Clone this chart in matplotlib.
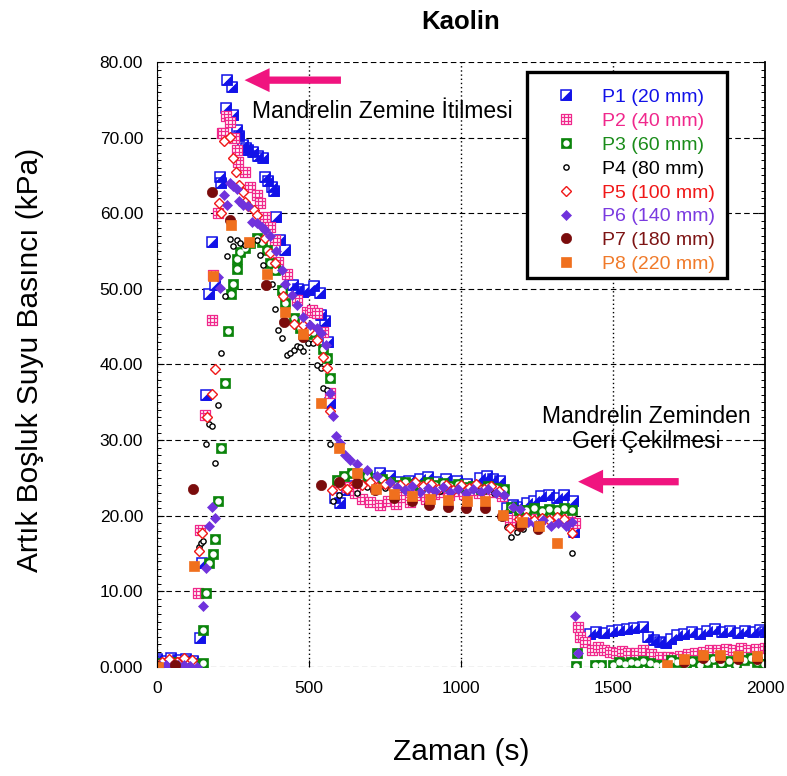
import numpy as np
import matplotlib
matplotlib.use("Agg")
import matplotlib.pyplot as plt
from matplotlib.path import Path
from matplotlib.patches import FancyArrowPatch, Rectangle
from matplotlib.legend_handler import HandlerTuple

plt.rcParams['font.family'] = ['Liberation Sans', 'DejaVu Sans']

# ---- data: time (s) and excess pore pressure (kPa) for each sensor ----
labels = ["P1 (20 mm)", "P2 (40 mm)", "P3 (60 mm)", "P4 (80 mm)",
          "P5 (100 mm)", "P6 (140 mm)", "P7 (180 mm)", "P8 (220 mm)"]

p1_t = [0, 20, 45, 70, 95, 120, 141, 147, 161, 172, 181, 191, 207, 212, 227, 229, 246, 251,
        262, 270, 282, 292, 300, 317, 333, 349, 355, 366, 377, 385, 391, 404, 421, 447, 465,
        480, 500, 518, 536, 541, 553, 562, 569, 586, 602, 624, 645, 670, 700, 733, 767, 800,
        830, 865, 890, 920, 950, 987, 1020, 1062, 1085, 1105, 1128, 1151, 1170, 1184, 1217,
        1240, 1262, 1290, 1315, 1340, 1368, 1372, 1424, 1445, 1470, 1495, 1520, 1545, 1570,
        1599, 1615, 1635, 1655, 1675, 1690, 1710, 1735, 1760, 1785, 1810, 1835, 1860, 1885,
        1910, 1935, 1960, 1985, 2000]
p1_v = [1.0, 0.8, 1.2, 0.9, 1.1, 0.8, 3.8, 13.7, 36.0, 49.3, 56.2, 50.5, 64.8, 64.0, 73.9, 77.6,
        76.7, 73.0, 71.0, 70.2, 69.0, 68.6, 68.4, 68.1, 67.6, 67.3, 64.8, 64.2, 63.5, 62.9, 59.5,
        56.5, 55.1, 50.5, 50.0, 49.6, 49.8, 50.4, 49.5, 46.5, 45.7, 43.0, 34.9, 22.3, 21.7, 23.4,
        23.9, 24.3, 24.8, 25.6, 25.2, 24.4, 24.6, 24.8, 25.1, 24.5, 24.9, 24.6, 24.2, 25.0, 25.3,
        24.9, 24.6, 21.0, 21.4, 21.2, 21.7, 22.0, 22.6, 22.8, 22.3, 22.7, 22.0, 17.8, 4.3, 4.6,
        4.5, 4.8, 4.9, 5.0, 5.2, 5.3, 4.0, 3.6, 3.3, 3.2, 3.7, 4.2, 4.4, 4.6, 4.4, 4.7, 5.0, 4.6,
        4.8, 4.5, 4.7, 4.6, 4.9, 4.6]

p2_t = [5, 30, 55, 80, 105, 128, 136, 141, 158, 180, 183, 202, 213, 218, 227, 240, 252, 262,
        268, 290, 306, 328, 339, 355, 372, 388, 398, 427, 460, 492, 510, 525, 547, 569, 600,
        625, 650, 675, 700, 733, 760, 785, 810, 832, 860, 885, 910, 935, 960, 985, 1010, 1035,
        1060, 1085, 1110, 1135, 1160, 1185, 1210, 1235, 1260, 1285, 1310, 1335, 1360, 1375,
        1385, 1391, 1408, 1430, 1450, 1470, 1490, 1510, 1530, 1550, 1575, 1600, 1625, 1655,
        1680, 1700, 1720, 1745, 1770, 1795, 1820, 1845, 1870, 1895, 1920, 1945, 1970, 2000]
p2_v = [0.3, 0.5, 0.2, 0.6, 0.4, 0.3, 9.8, 18.1, 33.3, 45.9, 51.8, 60.0, 70.6, 70.6, 72.8, 72.1,
        70.0, 68.4, 66.8, 65.5, 63.5, 62.4, 61.3, 59.5, 58.2, 56.5, 53.6, 52.0, 48.5, 47.0, 47.2,
        46.8, 44.3, 36.2, 24.5, 23.8, 23.0, 22.2, 21.8, 21.4, 22.0, 21.6, 22.5, 21.8, 22.8, 22.2,
        22.9, 23.2, 22.8, 23.3, 22.9, 23.4, 23.0, 23.5, 23.1, 22.6, 19.4, 19.8, 20.3, 20.0, 19.6,
        20.2, 19.9, 19.5, 20.1, 19.0, 5.3, 4.0, 3.3, 2.3, 2.6, 2.2, 2.0, 1.9, 2.1, 1.8, 1.9, 2.2,
        1.7, 1.3, 1.3, 1.2, 1.4, 1.7, 1.9, 2.0, 2.3, 2.2, 2.4, 2.3, 2.5, 2.2, 2.4, 2.5]

p3_t = [0, 25, 50, 75, 100, 125, 150, 152, 161, 172, 183, 192, 202, 211, 224, 232, 243, 251,
        262, 264, 273, 290, 306, 328, 344, 361, 372, 388, 410, 421, 449, 470, 495, 514, 547,
        560, 569, 592, 615, 640, 665, 691, 715, 740, 765, 790, 815, 840, 865, 890, 915, 940,
        965, 990, 1015, 1040, 1065, 1090, 1115, 1140, 1165, 1190, 1215, 1240, 1265, 1290, 1315,
        1340, 1365, 1380, 1378, 1440, 1460, 1500, 1520, 1540, 1560, 1580, 1600, 1620, 1640,
        1660, 1690, 1710, 1740, 1760, 1785, 1810, 1830, 1855, 1880, 1905, 1930, 1955, 1975, 1995]
p3_v = [0.5, 0.3, 0.7, 0.4, 0.6, 0.3, 0.5, 4.9, 9.8, 13.8, 14.9, 16.9, 21.9, 29.0, 37.5, 44.4,
        49.3, 50.7, 52.6, 54.0, 54.9, 55.4, 56.0, 56.7, 56.2, 55.1, 53.4, 52.5, 49.9, 48.1, 46.1,
        44.8, 44.0, 44.3, 42.1, 40.8, 38.2, 24.7, 25.2, 25.6, 25.0, 25.3, 24.6, 24.9, 24.4, 24.1,
        24.5, 24.2, 24.0, 24.4, 24.1, 24.3, 23.9, 24.2, 23.8, 23.9, 23.6, 23.9, 23.7, 23.5, 21.2,
        20.8, 20.7, 21.0, 20.6, 20.9, 20.8, 21.0, 20.7, 1.8, 0.1, 0.2, 0.2, 0.3, 0.6, 0.4, 0.7,
        0.5, 0.8, 0.5, 0.3, 0.2, 0.9, 0.6, 0.4, 0.8, 0.3, 0.6, 1.0, 0.5, 0.8, 0.3, 0.9, 1.2, 0.7, 0.4]

p4_t = [10, 35, 60, 85, 110, 139, 144, 150, 160, 172, 182, 191, 202, 211, 224, 229, 240, 249,
        262, 273, 290, 306, 328, 339, 350, 377, 388, 399, 410, 427, 437, 449, 459, 470, 481,
        498, 514, 525, 538, 547, 558, 569, 579, 600, 625, 658, 690, 720, 750, 780, 810, 840,
        870, 900, 930, 960, 990, 1020, 1050, 1080, 1110, 1140, 1151, 1165, 1185, 1204, 1230,
        1260, 1290, 1320, 1345, 1364]
p4_v = [0.2, 0.4, 0.1, 0.3, 0.2, 15.9, 16.4, 16.6, 29.5, 32.1, 31.9, 27.0, 34.7, 41.5, 49.1,
        54.3, 56.6, 55.7, 56.5, 56.0, 55.8, 56.2, 56.5, 54.5, 53.2, 50.7, 47.4, 44.6, 43.5, 41.3,
        41.5, 41.9, 42.4, 42.3, 41.8, 42.8, 42.9, 39.9, 39.5, 36.9, 36.6, 29.5, 22.0, 22.8, 23.4,
        23.0, 23.8, 23.5, 23.7, 23.2, 23.6, 23.9, 23.4, 23.7, 23.3, 23.8, 23.5, 23.2, 23.6, 23.4,
        23.0, 22.7, 18.5, 17.2, 17.8, 18.2, 19.3, 19.6, 19.4, 19.7, 19.5, 15.1]

p5_t = [15, 40, 65, 90, 115, 139, 149, 163, 180, 191, 205, 210, 220, 240, 249, 260, 271, 282,
        289, 300, 319, 330, 355, 372, 388, 416, 449, 481, 500, 525, 547, 558, 569, 575, 602,
        625, 650, 675, 700, 725, 750, 775, 800, 825, 850, 875, 900, 925, 950, 975, 1000, 1025,
        1050, 1075, 1100, 1125, 1161, 1190, 1215, 1240, 1265, 1290, 1315, 1340, 1364]
p5_v = [0.6, 1.0, 0.7, 1.2, 0.9, 15.3, 17.7, 33.1, 36.1, 39.4, 61.3, 60.0, 69.5, 70.1, 67.3,
        65.5, 63.7, 62.8, 61.5, 61.0, 60.4, 59.8, 56.7, 54.7, 53.4, 49.0, 45.4, 45.2, 44.5, 43.2,
        41.0, 39.5, 33.8, 23.4, 24.1, 23.6, 24.3, 24.0, 24.5, 23.8, 24.2, 23.5, 24.1, 23.7, 24.4,
        23.9, 24.2, 23.6, 24.0, 23.4, 24.1, 23.7, 24.2, 23.5, 23.9, 23.3, 18.4, 19.6, 19.8, 19.5,
        19.7, 19.4, 19.8, 19.6, 17.7]

p6_t = [10, 30, 50, 70, 90, 110, 130, 150, 161, 172, 182, 191, 202, 207, 220, 229, 240, 251,
        264, 271, 284, 300, 311, 328, 344, 355, 372, 390, 410, 421, 443, 459, 481, 503, 525,
        541, 556, 569, 578, 589, 602, 618, 635, 657, 690, 722, 766, 790, 815, 840, 865, 890,
        915, 940, 965, 990, 1015, 1040, 1065, 1090, 1115, 1140, 1170, 1195, 1220, 1245, 1270,
        1295, 1320, 1345, 1365, 1375, 1385]
p6_v = [0.1, 0.2, 0.1, 0.3, 0.2, 0.1, 0.0, 8.0, 13.1, 18.6, 21.2, 19.7, 51.6, 50.1, 62.4, 61.1,
        64.0, 63.6, 63.2, 61.6, 61.1, 60.9, 58.9, 58.7, 58.2, 57.8, 57.0, 55.0, 52.5, 50.7, 49.2,
        47.9, 46.3, 45.2, 44.8, 44.1, 42.6, 36.2, 33.2, 30.5, 29.6, 28.0, 27.4, 26.8, 26.0, 25.2,
        24.5, 23.8, 23.4, 23.9, 23.2, 23.7, 23.3, 23.8, 23.1, 23.5, 23.0, 23.6, 23.2, 23.5, 23.0,
        22.8, 21.2, 20.9, 19.2, 18.8, 19.4, 18.6, 19.1, 18.7, 19.2, 6.7, 1.8]

p7_t = [0, 60, 120, 181, 240, 359, 419, 481, 539, 600, 657, 717, 780, 838, 896, 956, 1016,
        1079, 1134, 1194, 1254, 1734, 1795, 1852, 1912, 1973]
p7_v = [0.1, 0.2, 23.5, 62.8, 59.1, 50.5, 45.6, 43.7, 24.1, 24.5, 24.3, 23.4, 22.3, 21.9, 21.4,
        21.2, 21.0, 21.0, 19.9, 18.6, 18.2, 0.7, 1.2, 1.2, 1.0, 1.1]

p8_t = [4, 123, 185, 243, 304, 361, 421, 481, 539, 599, 659, 719, 781, 840, 898, 958, 1019,
        1079, 1139, 1200, 1258, 1315, 1676, 1734, 1795, 1852, 1912, 1973]
p8_v = [0.0, 13.3, 51.7, 58.4, 56.2, 52.0, 46.9, 44.0, 34.9, 28.9, 25.7, 23.6, 22.9, 22.6, 22.2,
        22.1, 21.9, 21.9, 20.1, 19.2, 18.6, 16.4, 0.3, 1.0, 1.6, 1.6, 1.4, 1.5]

x_ticks = [0, 500, 1000, 1500, 2000]
x_ticklabels = ["0", "500", "1000", "1500", "2000"]
y_ticks = [0, 10, 20, 30, 40, 50, 60, 70, 80]
y_ticklabels = ["0.000", "10.00", "20.00", "30.00", "40.00", "50.00", "60.00", "70.00", "80.00"]

# ---- colours ----
c_blue = '#1212e8'
c_pink = '#f0288c'
c_green = '#0b840b'
c_black = '#000000'
c_red = '#f01818'
c_purple = '#7032dc'
c_darkred = '#7a0c0c'
c_orange = '#f0701e'
c_arrow = '#f0147f'
text_colors = [c_blue, c_pink, '#1a8c1a', c_black, c_red, '#7a3ae0', '#7d1414', '#f07a2a']

# ---- custom marker shapes ----
tri_path = Path([(-1, -1), (1, -1), (1, 1), (-1, -1)],
                [Path.MOVETO, Path.LINETO, Path.LINETO, Path.CLOSEPOLY])
g = 1.0 / 3.0
grid_verts = [(-1, -1), (1, -1), (1, 1), (-1, 1), (-1, -1),
              (-g, -1), (-g, 1), (g, -1), (g, 1),
              (-1, -g), (1, -g), (-1, g), (1, g)]
grid_codes = [Path.MOVETO, Path.LINETO, Path.LINETO, Path.LINETO, Path.CLOSEPOLY,
              Path.MOVETO, Path.LINETO, Path.MOVETO, Path.LINETO,
              Path.MOVETO, Path.LINETO, Path.MOVETO, Path.LINETO]
grid_path = Path(grid_verts, grid_codes)

fig = plt.figure(figsize=(7.87, 7.76), dpi=100)
ax = fig.add_axes([0.1995, 0.1405, 0.7726, 0.7796])

ms_sq = 7.0
h1a, = ax.plot(p1_t, p1_v, ls='none', marker='s', ms=ms_sq, mfc='white', mec=c_blue, mew=1.1)
h1b, = ax.plot(p1_t, p1_v, ls='none', marker=tri_path, ms=ms_sq, mfc=c_blue, mec=c_blue, mew=0.6)
h2, = ax.plot(p2_t, p2_v, ls='none', marker=grid_path, ms=ms_sq, mfc='white', mec=c_pink, mew=0.9)
h3a, = ax.plot(p3_t, p3_v, ls='none', marker='s', ms=7.6, mfc=c_green, mec=c_green, mew=0.5)
h3b, = ax.plot(p3_t, p3_v, ls='none', marker='o', ms=4.6, mfc='white', mec='white', mew=0)
h4, = ax.plot(p4_t, p4_v, ls='none', marker='o', ms=3.8, mfc='white', mec=c_black, mew=1.0)
h5, = ax.plot(p5_t, p5_v, ls='none', marker='D', ms=5.4, mfc='white', mec=c_red, mew=1.0)
h6, = ax.plot(p6_t, p6_v, ls='none', marker='D', ms=5.6, mfc=c_purple, mec=c_purple, mew=0.5)
h7, = ax.plot(p7_t, p7_v, ls='none', marker='o', ms=7.4, mfc=c_darkred, mec=c_darkred, mew=0.5)
h8, = ax.plot(p8_t, p8_v, ls='none', marker='s', ms=7.6, mfc=c_orange, mec=c_orange, mew=0.5)

# ---- axes, ticks, grid ----
ax.set_xlim(0, 2000)
ax.set_ylim(0, 80)
ax.set_xticks(x_ticks)
ax.set_xticklabels(x_ticklabels)
ax.set_yticks(y_ticks)
ax.set_yticklabels(y_ticklabels)
ax.set_yticks(np.arange(0, 81, 1), minor=True)
ax.tick_params(axis='both', which='major', direction='in', length=5, width=0.8,
               labelsize=12.5, pad=10, right=True)
ax.tick_params(axis='y', which='minor', direction='in', length=3, width=0.7, right=True)
ax.yaxis.grid(True, which='major', linestyle=(0, (5, 3)), color='black', lw=0.8)
ax.xaxis.grid(True, which='major', linestyle=(0, (1, 2)), color='black', lw=1.0)
ax.set_axisbelow(True)
for side in ['top', 'bottom']:
    ax.spines[side].set_visible(False)
ax.spines['left'].set_linewidth(0.8)
ax.spines['right'].set_linewidth(1.3)

# ---- legend (frame drawn separately as a box in axes coordinates) ----
box = Rectangle((0.6086, 0.643), 0.3289, 0.3405, transform=ax.transAxes,
                facecolor='white', edgecolor='black', lw=2.4, zorder=4)
ax.add_patch(box)
handles = [(h1a, h1b), h2, (h3a, h3b), h4, h5, h6, h7, h8]
leg = ax.legend(handles, labels, loc='upper left', bbox_to_anchor=(0.6086, 0.9785),
                handler_map={tuple: HandlerTuple(ndivide=1, pad=0)},
                fontsize=14, frameon=False, borderpad=0.7, labelspacing=0.32,
                handlelength=2.6, handletextpad=0.56, borderaxespad=0)
leg.set_zorder(5)
for txt, col in zip(leg.get_texts(), text_colors):
    txt.set_color(col)

# ---- annotations ----
ax.text(740, 73.5, "Mandrelin Zemine \u0130tilmesi", fontsize=16.5, ha='center', va='center')
ax.text(1608, 31.5, "Mandrelin Zeminden\nGeri \u00c7ekilmesi", fontsize=16.5, ha='center',
        va='center', linespacing=1.1)
arrow_style = "simple,head_length=1.2,head_width=1.15,tail_width=0.35"
ax.add_patch(FancyArrowPatch((605, 77.6), (288, 77.6), arrowstyle=arrow_style,
                             mutation_scale=15, color=c_arrow, lw=0, shrinkA=0, shrinkB=0,
                             clip_on=False, zorder=5))
ax.add_patch(FancyArrowPatch((1716, 24.5), (1385, 24.5), arrowstyle=arrow_style,
                             mutation_scale=15, color=c_arrow, lw=0, shrinkA=0, shrinkB=0,
                             zorder=5))

# ---- titles ----
fig.text(0.5858, 0.9716, "Kaolin", fontsize=18.5, fontweight='bold', ha='center', va='center')
fig.text(0.5858, 0.0309, "Zaman (s)", fontsize=21.5, ha='center', va='center')
fig.text(0.0381, 0.536, "Art\u0131k Bo\u015fluk Suyu Bas\u0131nc\u0131 (kPa)", fontsize=21.5,
         ha='center', va='center', rotation=90)

fig.savefig("out.png", dpi=100)
